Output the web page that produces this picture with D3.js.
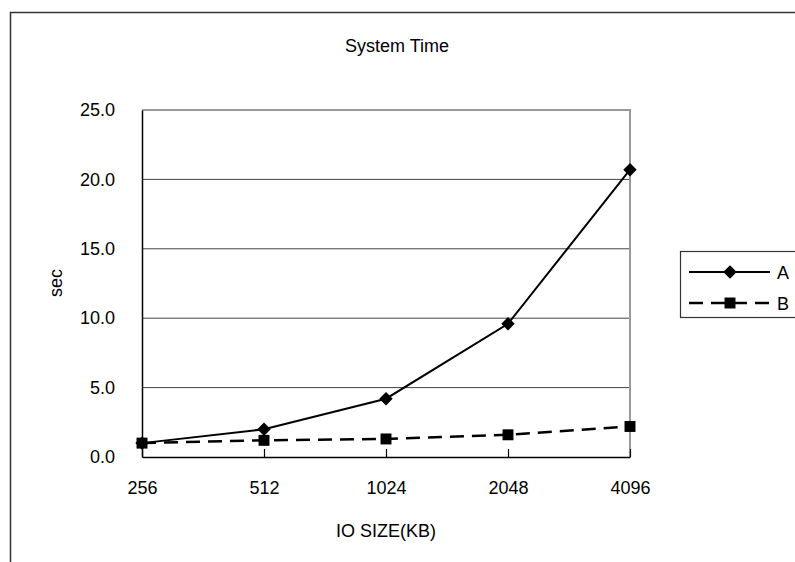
<!DOCTYPE html>
<html>
<head>
<meta charset="utf-8">
<script src="https://cdn.jsdelivr.net/npm/d3@7"></script>
<style>
  body { margin: 0; background: #fff; }
  svg text { font-family: "Liberation Sans", Arial, sans-serif; fill: #000; }
</style>
</head>
<body>
<div id="chart"></div>
<script>
// data
const sizes = ["256", "512", "1024", "2048", "4096"];
const seriesA = [1.0, 2.0, 4.2, 9.6, 20.7];
const seriesB = [1.0, 1.2, 1.3, 1.6, 2.2];
const yTicks = [0, 5, 10, 15, 20, 25];

const W = 795, H = 562;
const plot = { left: 142, right: 630, top: 110, bottom: 457 };
const FS = 18;

const svg = d3.select("#chart").append("svg")
  .attr("width", W)
  .attr("height", H);

// outer chart frame
svg.append("rect")
  .attr("x", 10.5).attr("y", 12.5)
  .attr("width", 800).attr("height", 600)
  .attr("fill", "none")
  .attr("stroke", "#333")
  .attr("stroke-width", 1.5);

const x = d3.scalePoint().domain(sizes).range([plot.left, plot.right]);
const y = d3.scaleLinear().domain([0, 25]).range([plot.bottom, plot.top]);

// gridlines
svg.append("g").selectAll("line")
  .data(yTicks.filter(t => t > 0 && t < 25))
  .join("line")
  .attr("x1", plot.left).attr("x2", plot.right)
  .attr("y1", d => y(d)).attr("y2", d => y(d))
  .attr("stroke", "#444").attr("stroke-width", 1);

// plot border top / right (grey)
svg.append("path")
  .attr("d", `M${plot.left},${plot.top}H${plot.right}V${plot.bottom}`)
  .attr("fill", "none").attr("stroke", "#999").attr("stroke-width", 2);

// y axis
const yAxis = svg.append("g")
  .attr("transform", `translate(${plot.left},0)`)
  .call(d3.axisLeft(y).tickValues(yTicks).tickFormat(d3.format(".1f")).tickSize(0).tickPadding(27));
yAxis.select(".domain").attr("stroke", "#000").attr("stroke-width", 1.5);
yAxis.selectAll("text").style("font-size", FS + "px");

// x axis (ticks inside)
const xAxis = svg.append("g")
  .attr("transform", `translate(0,${plot.bottom})`)
  .call(d3.axisBottom(x).tickSizeInner(-8).tickSizeOuter(0).tickPadding(24));
xAxis.select(".domain").attr("stroke", "#000").attr("stroke-width", 1.5);
xAxis.selectAll(".tick line").attr("stroke", "#000").attr("stroke-width", 1.2);
xAxis.selectAll("text").style("font-size", FS + "px");

// titles
svg.append("text")
  .attr("x", 397).attr("y", 52)
  .attr("text-anchor", "middle").style("font-size", FS + "px")
  .text("System Time");
svg.append("text")
  .attr("x", 386).attr("y", 537)
  .attr("text-anchor", "middle").style("font-size", FS + "px")
  .text("IO SIZE(KB)");
svg.append("text")
  .attr("transform", "translate(62,283) rotate(-90)")
  .attr("text-anchor", "middle").style("font-size", FS + "px")
  .text("sec");

const line = d3.line().x((d, i) => x(sizes[i])).y(d => y(d));
const diamond = d3.symbol(d3.symbolSquare, 90);   // drawn rotated 45deg
const square = d3.symbol(d3.symbolSquare, 120);

// series B (dashed, squares)
svg.append("path")
  .datum(seriesB)
  .attr("d", line)
  .attr("fill", "none").attr("stroke", "#000")
  .attr("stroke-width", 2.5).attr("stroke-dasharray", "14,8");
svg.append("g").selectAll("path")
  .data(seriesB)
  .join("path")
  .attr("transform", (d, i) => `translate(${x(sizes[i])},${y(d)})`)
  .attr("d", square()).attr("fill", "#000");

// series A (solid, diamonds)
svg.append("path")
  .datum(seriesA)
  .attr("d", line)
  .attr("fill", "none").attr("stroke", "#000").attr("stroke-width", 2);
svg.append("g").selectAll("path")
  .data(seriesA)
  .join("path")
  .attr("transform", (d, i) => `translate(${x(sizes[i])},${y(d)}) rotate(45)`)
  .attr("d", diamond()).attr("fill", "#000");

// legend
const legend = svg.append("g").attr("transform", "translate(680,251)");
legend.append("rect")
  .attr("x", 0.5).attr("y", 0.5)
  .attr("width", 200).attr("height", 66)
  .attr("fill", "#fff").attr("stroke", "#333").attr("stroke-width", 1.2);

const legendItems = [
  { name: "A", dash: null, width: 2, sym: diamond, rot: 45 },
  { name: "B", dash: "14,8", width: 2.5, sym: square, rot: 0 }
];
const item = legend.selectAll("g.item")
  .data(legendItems)
  .join("g")
  .attr("class", "item")
  .attr("transform", (d, i) => `translate(0,${21 + i * 31})`);
item.append("line")
  .attr("x1", 9).attr("x2", 90)
  .attr("stroke", "#000")
  .attr("stroke-width", d => d.width)
  .attr("stroke-dasharray", d => d.dash);
item.append("path")
  .attr("transform", d => `translate(50,0) rotate(${d.rot})`)
  .attr("d", d => d.sym()).attr("fill", "#000");
item.append("text")
  .attr("x", 97).attr("y", 7)
  .style("font-size", FS + "px")
  .text(d => d.name);
</script>
</body>
</html>
